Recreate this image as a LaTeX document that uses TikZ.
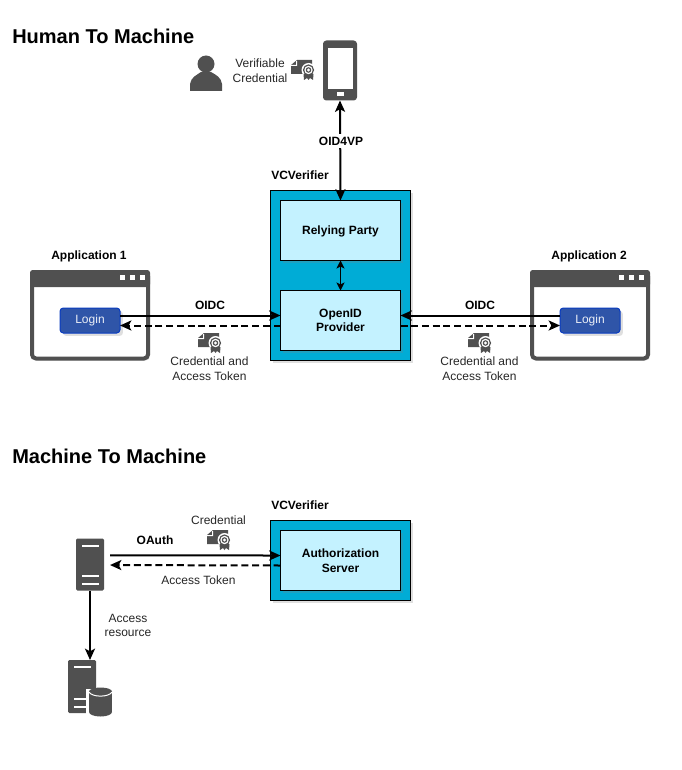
\documentclass[tikz,border=0pt]{standalone}
\usepackage{fontspec}
\setmainfont{Liberation Sans}
\usetikzlibrary{arrows.meta,shadows}
\definecolor{icongray}{HTML}{505050}
\definecolor{outerblue}{HTML}{00ACD6}
\definecolor{innerblue}{HTML}{C4F2FF}
\definecolor{loginblue}{HTML}{2F55A8}
\definecolor{loginedge}{HTML}{0A3CC0}
\tikzset{
  size/.style 2 args={minimum width=#1*0.75pt,minimum height=#2*0.75pt,inner sep=0pt,outer sep=0pt},
  softshadow/.style={drop shadow={opacity=.25,shadow xshift=2.2pt,shadow yshift=-2.2pt}},
  txt/.style={font=\fontsize{9}{11}\selectfont,align=center,text=black!85,inner sep=0pt},
  boldtxt/.style={font=\fontsize{9}{11}\selectfont\bfseries,align=center,inner sep=0pt},
  headline/.style={font=\fontsize{15}{18}\selectfont\bfseries,anchor=west,inner sep=0pt},
  outerbox/.style={draw=black,line width=.75pt,fill=outerblue,softshadow},
  innerbox/.style={draw=black,line width=.75pt,fill=innerblue,softshadow,boldtxt},
  loginbtn/.style={draw=loginedge,line width=.75pt,fill=loginblue,rounded corners=2.5pt,softshadow,
    size={60}{25},font=\fontsize{9}{11}\selectfont,text=white!90!loginblue},
  window/.style={draw=icongray,line width=3pt,fill=white,rounded corners=3pt,
    drop shadow={opacity=.15,shadow xshift=1.5pt,shadow yshift=-1.5pt},size={116}{86}},
  iconbox/.style={fill=icongray,rounded corners=1pt},
  solidarrow/.style={draw=black,line width=1.5pt},
  dasharrow/.style={draw=black,line width=1.5pt,dash pattern=on 5.25pt off 2.8pt},
  thinarrow/.style={draw=black,line width=.75pt,>={Stealth[length=6pt,width=6pt,inset=1.5pt]}},
  credential/.pic={
    \fill[icongray] (0,5) -- (6,0) -- (21,0) -- (21,14) -- (0,14) -- cycle;
    \fill[white] (0,5) -- (5,5) -- (5,1) -- (6,1) -- (6,6) -- (0,6) -- cycle;
    \fill[white] (17.5,10) circle (7);
    \fill[icongray] (12.5,14) -- (13,20) -- (16,18) -- (17.5,20) -- (19,18) -- (22,20) -- (22.5,14) -- cycle;
    \fill[icongray] (17.5,10) circle (5.6);
    \fill[white] (17.5,10) circle (4.2);
    \fill[icongray] (17.5,10) circle (2.8);
    \fill[white] (17.5,10) circle (1.6);
  }
}
\begin{document}
\begin{tikzpicture}[x=0.75pt,y=-0.75pt,>={Stealth[length=8.5pt,width=7.5pt,inset=2pt]}]
    \useasboundingbox (0,0) rectangle (681,770);

    % titles
    \node[headline] (human) at (12,36) {Human To Machine};
    \node[headline] (machine) at (12,456) {Machine To Machine};

    % wallet user
    \fill[icongray] (206,64) circle (8.5);
    \fill[icongray] (190,91) -- (190,84) .. controls (191,77) and (197,75) .. (201,72)
      -- (211,72) .. controls (216,75) and (221,77) .. (222,84) -- (222,91) -- cycle;
    \node[txt] (vc) at (260,70.5) {Verifiable\\Credential};
    \pic at (291,60) {credential};

    % phone
    \node[iconbox,rounded corners=2.5pt,size={34}{60}] (phone) at (340,70.5) {};
    \fill[white] (328,48) rectangle (353,89);
    \fill[white] (337,92) rectangle (344,96);

    % human to machine
    \node[outerbox,size={140}{170}] (verifier) at (340.5,275.5) {};
    \node[innerbox,text depth=0pt,size={120}{60}] (rp) at (340.5,230.5) {Relying Party};
    \node[innerbox,size={120}{60}] (op) at (340.5,320.5) {OpenID\\Provider};
    \node[boldtxt] (vername) at (300,175) {VCVerifier};

    \path (phone.south) edge[<->,solidarrow] (rp.north);
    \node[boldtxt,fill=white,inner ysep=2pt] (oid) at (341,141) {OID4VP};
    \path (rp.south) edge[<->,thinarrow] (op.north);

    % application 1
    \node[boldtxt,text depth=0pt] (app1) at (89,255) {Application 1};
    \node[window] (win1) at (90,315.5) {};
    \fill[icongray,rounded corners=2pt] (30,270) rectangle (150,287);
    \foreach \x in {120,130,140} \fill[white] (\x,275) rectangle +(5,5);
    \node[loginbtn] (login1) at (90,320.5) {Login};

    \path ([yshift=3.75pt]login1.east) edge[->,solidarrow] ([yshift=3.75pt]op.west);
    \path ([yshift=-3.75pt]op.west) edge[->,dasharrow] ([yshift=-3.75pt]login1.east);
    \node[boldtxt] (oidc1) at (210,305) {OIDC};
    \pic at (198,333) {credential};
    \node[txt] (cred1) at (209.5,368.5) {Credential and\\Access Token};

    % application 2
    \node[boldtxt,text depth=0pt] (app2) at (589,255) {Application 2};
    \node[window] (win2) at (590,315.5) {};
    \fill[icongray,rounded corners=2pt] (530,270) rectangle (650,287);
    \foreach \x in {619,629,639} \fill[white] (\x,275) rectangle +(5,5);
    \node[loginbtn] (login2) at (590,320.5) {Login};

    \path ([yshift=3.75pt]login2.west) edge[->,solidarrow] ([yshift=3.75pt]op.east);
    \path ([yshift=-3.75pt]op.east) edge[->,dasharrow] ([yshift=-3.75pt]login2.west);
    \node[boldtxt] (oidc2) at (480,305) {OIDC};
    \pic at (468,333) {credential};
    \node[txt] (cred2) at (479.5,368.5) {Credential and\\Access Token};

    % machine to machine
    \node[outerbox,size={140}{80}] (verifier2) at (340.5,560.5) {};
    \node[innerbox,size={120}{60}] (auth) at (340.5,560.5) {Authorization\\Server};
    \node[boldtxt] (vername2) at (300,505) {VCVerifier};

    % server
    \node[iconbox,size={28}{52}] (server) at (90,564.5) {};
    \draw[white,line width=1.3pt] (82,546) -- (99,546) (82,576) -- (99,576) (82,584) -- (99,584);

    % data server
    \node[iconbox,size={28}{53}] (data) at (82,686.5) {};
    \draw[white,line width=1.3pt] (74,667) -- (91,667) (74,699) -- (91,699) (74,707) -- (91,707);
    \fill[white] (86,689) rectangle (114,719);
    \fill[icongray] (89,692) rectangle (112,712);
    \fill[icongray] (100.5,712) ellipse (11.5 and 4.5);
    \fill[icongray] (100.5,691.5) ellipse (11.5 and 4);
    \draw[white,line width=.75pt] (89,692) .. controls (92,697.5) and (109,697.5) .. (112,692);

    \path ([xshift=4.5pt,yshift=6.8pt]server.east) edge[->,solidarrow] ([yshift=3.75pt]auth.west);
    \path ([yshift=-3.75pt]auth.west) edge[->,dasharrow] ([xshift=4.5pt,yshift=-.4pt]server.east);
    \path (server.south) edge[->,solidarrow] (server.south |- data.north);

    \node[boldtxt] (oauth) at (155,540) {OAuth};
    \node[txt] (cred3) at (218.5,520) {Credential};
    \pic at (207,530) {credential};
    \node[txt] (token) at (198.5,580) {Access Token};
    \node[txt] (res) at (128,625.5) {Access\\resource};
  \end{tikzpicture}
\end{document}
